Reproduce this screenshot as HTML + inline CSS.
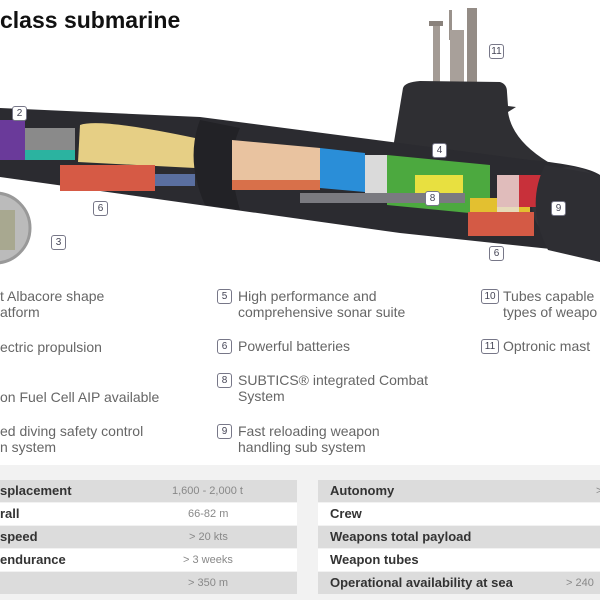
<!DOCTYPE html>
<html><head><meta charset="utf-8"><style>
*{margin:0;padding:0}
body{width:600px;height:600px;overflow:hidden;background:#fff;position:relative;font-family:"Liberation Sans",sans-serif}
.t{position:absolute;font-size:14px;color:#666;line-height:16px;white-space:nowrap}
.b{position:absolute;width:13px;height:13px;border:1.5px solid #778;border-radius:3px;font-size:10px;line-height:13px;text-align:center;color:#445;background:#fff}
.tb{position:absolute;left:0;top:465px;width:600px;height:135px;background:#f2f2f2}
.r{position:absolute;height:22px;font-size:13px;font-weight:bold;color:#333;line-height:22px}
.v{position:absolute;font-size:11px;color:#888;font-weight:normal}
</style></head><body>
<div style="position:absolute;left:0;top:7px;font-size:23px;font-weight:bold;color:#111">class submarine</div>
<svg width="600" height="270" style="position:absolute;left:0;top:0">
<rect x="433" y="22" width="7" height="60" fill="#a39b95"/>
<rect x="429" y="21" width="14" height="5" fill="#8a827c"/>
<rect x="449" y="10" width="3" height="30" fill="#9a928c"/>
<rect x="450" y="30" width="14" height="54" fill="#a8a09a"/>
<rect x="467" y="8" width="10" height="76" fill="#948c86"/>
<path d="M393,148 L403,88 Q405,82 420,81 L500,82 Q507,84 507,92 L508,106 L516,107 L508,112 Q512,140 548,162 L393,162Z" fill="#2f2f33"/>
<path d="M0,108 L200,117 L530,160 Q585,165 600,175 L600,262 Q580,255 560,250 L400,233 L150,198 L0,177Z" fill="#2b2b30"/>
<circle cx="570" cy="205" r="38" fill="#333338"/>
<rect x="0" y="120" width="25" height="40" fill="#6a3a9a"/>
<rect x="25" y="128" width="50" height="32" fill="#8a8a8a"/>
<rect x="25" y="150" width="50" height="10" fill="#2bb3a0"/>
<path d="M80,125 Q100,118 195,138 L195,168 L78,162Z" fill="#e6cf85"/>
<rect x="60" y="165" width="95" height="26" fill="#d65a45"/>
<rect x="155" y="174" width="40" height="12" fill="#5a6fa0"/>
<path d="M200,120 Q185,160 205,205 L240,210 Q225,160 240,128Z" fill="#222226"/>
<path d="M232,140 L320,148 L320,186 L232,180Z" fill="#e9c3a0"/>
<rect x="232" y="180" width="88" height="10" fill="#d8704a"/>
<path d="M320,148 L365,153 L365,192 L320,188Z" fill="#2a8ed8"/>
<rect x="365" y="155" width="22" height="38" fill="#dadada"/>
<path d="M387,155 L490,165 L490,215 L387,205Z" fill="#4ca93f"/>
<rect x="415" y="175" width="48" height="28" fill="#e8e040"/>
<rect x="300" y="193" width="165" height="10" fill="#7a7a80"/>
<rect x="470" y="198" width="60" height="16" fill="#e3c030"/>
<rect x="497" y="175" width="48" height="32" fill="#c8303a"/>
<rect x="497" y="175" width="22" height="38" fill="#e6e0dc" opacity=".8"/>
<rect x="468" y="212" width="66" height="24" fill="#d45a45"/>
<path d="M545,165 Q525,205 548,250 L600,262 L600,175Z" fill="#2e2e33"/>
<circle cx="-5" cy="228" r="35" fill="#bbb" stroke="#999" stroke-width="3"/>
<rect x="0" y="210" width="15" height="40" fill="#a8a890"/>
</svg>
<div class="b" style="left:12px;top:106px">2</div>
<div class="b" style="left:93px;top:201px">6</div>
<div class="b" style="left:51px;top:235px">3</div>
<div class="b" style="left:432px;top:143px">4</div>
<div class="b" style="left:425px;top:191px">8</div>
<div class="b" style="left:551px;top:201px">9</div>
<div class="b" style="left:489px;top:246px">6</div>
<div class="b" style="left:489px;top:44px">11</div>

<div class="t" style="left:0;top:288px">t Albacore shape<br>atform</div>
<div class="t" style="left:0;top:339px">ectric propulsion</div>
<div class="t" style="left:0;top:389px">on Fuel Cell AIP available</div>
<div class="t" style="left:0;top:423px">ed diving safety control<br>n system</div>
<div class="b" style="left:217px;top:289px">5</div>
<div class="t" style="left:238px;top:288px">High performance and<br>comprehensive sonar suite</div>
<div class="b" style="left:217px;top:339px">6</div>
<div class="t" style="left:238px;top:338px">Powerful batteries</div>
<div class="b" style="left:217px;top:373px">8</div>
<div class="t" style="left:238px;top:372px">SUBTICS® integrated Combat<br>System</div>
<div class="b" style="left:217px;top:424px">9</div>
<div class="t" style="left:238px;top:423px">Fast reloading weapon<br>handling sub system</div>
<div class="b" style="left:481px;top:289px;width:16px">10</div>
<div class="t" style="left:503px;top:288px">Tubes capable<br>types of weapo</div>
<div class="b" style="left:481px;top:339px;width:16px">11</div>
<div class="t" style="left:503px;top:338px">Optronic mast</div>

<div class="tb"></div>
<div class="r" style="left:0;top:480px;width:297px;background:#dcdcdc">splacement<span class="v" style="left:172px">1,600 - 2,000 t</span></div>
<div class="r" style="left:0;top:503px;width:297px;background:#fff">rall<span class="v" style="left:188px">66-82 m</span></div>
<div class="r" style="left:0;top:526px;width:297px;background:#dcdcdc">speed<span class="v" style="left:189px">&gt; 20 kts</span></div>
<div class="r" style="left:0;top:549px;width:297px;background:#fff">endurance<span class="v" style="left:183px">&gt; 3 weeks</span></div>
<div class="r" style="left:0;top:572px;width:297px;background:#dcdcdc"><span class="v" style="left:188px">&gt; 350 m</span></div>
<div class="r" style="left:318px;top:480px;width:282px;background:#dcdcdc;padding-left:12px;box-sizing:border-box">Autonomy<span class="v" style="left:278px">&gt;</span></div>
<div class="r" style="left:318px;top:503px;width:282px;background:#fff;padding-left:12px;box-sizing:border-box">Crew</div>
<div class="r" style="left:318px;top:526px;width:282px;background:#dcdcdc;padding-left:12px;box-sizing:border-box">Weapons total payload</div>
<div class="r" style="left:318px;top:549px;width:282px;background:#fff;padding-left:12px;box-sizing:border-box">Weapon tubes</div>
<div class="r" style="left:318px;top:572px;width:282px;background:#dcdcdc;padding-left:12px;box-sizing:border-box">Operational availability at sea<span class="v" style="left:248px">&gt; 240</span></div>
</body></html>
